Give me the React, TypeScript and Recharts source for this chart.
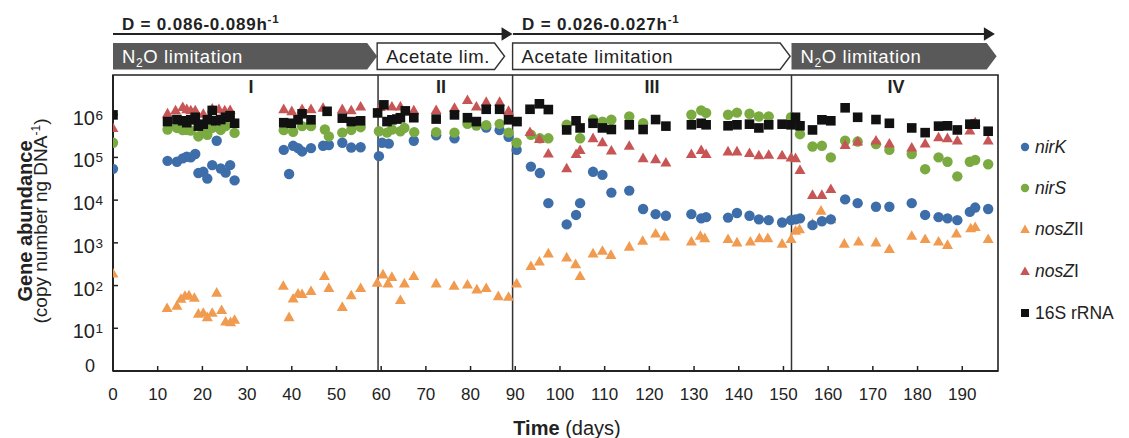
import React from 'react';
import { ScatterChart, Scatter, XAxis, YAxis, ReferenceLine, ReferenceArea } from 'recharts';

// gene copies per ng DNA, [day, value]
const nirK = [
  [0, 5.4e4], [12.2, 8.3e4], [14.3, 7.9e4], [15.6, 9.5e4], [16.5, 1.04e5], [17.4, 1.0e5], [18.4, 1.2e5],
  [19.1, 4.3e4], [20.2, 4.6e4], [21.1, 3.2e4], [22.2, 6.6e4], [23.2, 2.45e5], [24.1, 5.5e4], [25.2, 4.4e4],
  [26.2, 6.6e4], [27.2, 2.9e4], [38.2, 1.5e5], [39.4, 4.1e4], [40.3, 1.87e5], [41.4, 1.65e5], [42.3, 1.38e5],
  [44.3, 1.65e5], [47.0, 1.87e5], [48.3, 1.95e5], [51.3, 2.2e5], [53.3, 1.7e5], [55.4, 1.73e5], [59.5, 1.07e5],
  [60.2, 2.2e5], [61.7, 2.1e5], [67.3, 2.45e5], [72.3, 3.3e5], [76.4, 2.8e5], [83.5, 5.0e5], [86.5, 4.35e5],
  [88.5, 3.05e5], [90.3, 1.5e5], [93.5, 6.1e4], [95.5, 4.3e4], [97.4, 8.5e3], [101.5, 2.7e3], [103.6, 4.5e3],
  [104.5, 8.5e3], [107.4, 4.6e4], [109.5, 3.9e4], [111.5, 1.5e4], [115.5, 1.67e4], [118.6, 6.2e3], [121.4, 4.7e3],
  [123.7, 4.3e3], [129.4, 4.7e3], [131.6, 3.75e3], [132.7, 4.0e3], [137.6, 3.9e3], [139.6, 5.0e3], [142.4, 4.3e3],
  [144.5, 3.55e3], [146.7, 3.4e3], [149.7, 3.0e3], [151.7, 3.4e3], [152.7, 3.55e3], [153.7, 3.75e3], [156.5, 2.6e3],
  [158.6, 3.2e3], [160.6, 3.55e3], [163.8, 1.04e4], [166.6, 8.5e3], [170.7, 7.0e3], [173.7, 7.0e3], [178.7, 8.5e3],
  [181.7, 4.5e3], [184.7, 4.0e3], [186.7, 3.75e3], [188.9, 3.4e3], [191.7, 5.3e3], [192.9, 6.7e3], [195.8, 6.2e3],
];

const nirS = [
  [0, 2.2e5], [12.2, 4.5e5], [14.3, 4.9e5], [15.6, 4.35e5], [16.5, 4.4e5], [17.4, 4.25e5], [19.1, 3.1e5],
  [20.2, 4.0e5], [21.1, 3.4e5], [22.2, 4.9e5], [24.1, 4.4e5], [25.2, 5.4e5], [27.2, 3.75e5], [38.2, 4.35e5],
  [40.3, 4.0e5], [42.3, 5.4e5], [44.3, 5.4e5], [47.4, 4.5e5], [48.3, 3.1e5], [51.3, 3.8e5], [53.3, 4.4e5],
  [55.4, 5.1e5], [59.5, 4.1e5], [61.3, 3.8e5], [62.4, 4.5e5], [64.3, 4.1e5], [65.2, 4.9e5], [67.4, 3.9e5],
  [72.3, 3.9e5], [76.4, 3.8e5], [79.3, 6.1e5], [81.3, 5.6e5], [83.5, 5.7e5], [86.5, 6.1e5], [88.5, 3.8e5],
  [90.3, 2.2e5], [93.5, 3.4e5], [95.5, 2.8e5], [97.4, 2.8e5], [101.5, 5.8e5], [104.5, 2.8e5], [107.4, 7.7e5],
  [109.5, 6.9e5], [111.5, 7.6e5], [115.5, 9.1e5], [118.6, 6.3e5], [129.4, 1.0e6], [131.6, 1.26e6], [132.7, 1.1e6],
  [137.6, 1.0e6], [139.6, 1.12e6], [142.4, 1.05e6], [144.5, 9.1e5], [146.7, 9.1e5], [151.7, 8.7e5], [153.7, 3.5e5],
  [156.5, 1.8e5], [158.6, 1.87e5], [160.6, 1.0e5], [163.8, 2.45e5], [166.6, 2.35e5], [170.7, 2.05e5], [173.7, 1.5e5],
  [178.7, 1.2e5], [181.7, 5.3e4], [184.7, 1.0e5], [186.7, 7.9e4], [188.9, 3.6e4], [191.7, 7.9e4], [192.9, 8.7e4],
  [195.8, 6.9e4],
];

const nosZII = [
  [0, 200], [12.1, 31], [14.3, 35], [15.2, 51], [16.1, 60], [17.0, 62], [18.2, 54], [19.1, 23], [20.2, 24],
  [21.1, 19], [22.2, 24], [23.2, 71], [24.3, 28], [25.2, 15], [26.3, 14.5], [27.2, 16.5], [38.1, 103], [39.4, 19],
  [40.3, 52], [41.4, 68], [42.3, 66], [44.3, 78], [47.3, 174], [48.3, 91], [51.3, 33], [53.3, 62], [55.4, 91],
  [59.1, 122], [60.4, 190], [61.5, 117], [62.4, 166], [64.3, 48], [65.2, 117], [67.3, 174], [72.3, 117], [76.3, 103],
  [79.3, 110], [81.4, 85], [83.5, 91], [86.2, 59], [88.5, 57], [90.3, 117], [93.5, 300], [95.4, 380], [97.4, 590],
  [101.5, 475], [103.5, 330], [104.5, 174], [107.4, 590], [109.5, 680], [111.4, 545], [115.5, 850], [118.5, 1170],
  [121.4, 1720], [123.4, 1470], [129.4, 1120], [131.4, 1530], [132.4, 1340], [137.6, 1280], [139.6, 1070],
  [142.6, 1120], [144.6, 1340], [146.5, 1340], [149.7, 1000], [151.7, 1280], [152.7, 2000], [153.6, 2180],
  [156.5, 2930], [158.4, 5900], [160.6, 3750], [163.6, 1000], [166.8, 1120], [170.7, 1070], [173.7, 745],
  [178.7, 1530], [181.7, 1280], [184.7, 1120], [186.7, 935], [188.7, 1720], [191.9, 2290], [192.9, 2450], [195.8, 1280],
];

const nosZI = [
  [0, 5.1e5], [12.2, 1.12e6], [14.0, 1.32e6], [15.6, 1.58e6], [16.5, 1.41e6], [17.4, 1.32e6], [18.4, 1.32e6],
  [20.2, 1.1e6], [22.2, 1.45e6], [23.7, 1.41e6], [25.0, 1.32e6], [26.2, 1.34e6], [38.2, 1.41e6], [40.0, 1.26e6],
  [42.3, 1.41e6], [44.3, 1.41e6], [47.0, 1.51e6], [51.3, 1.41e6], [53.3, 1.32e6], [55.4, 1.62e6], [59.8, 1.58e6],
  [62.4, 1.62e6], [64.3, 1.62e6], [67.3, 1.32e6], [72.3, 1.34e6], [76.4, 1.51e6], [79.3, 2.3e6], [81.3, 1.62e6],
  [83.5, 2.08e6], [86.5, 2.08e6], [88.5, 1.28e6], [93.3, 4.1e5], [95.4, 2.8e5], [97.4, 1.29e5], [101.5, 5.8e4],
  [103.6, 1.25e5], [104.5, 1.55e5], [107.4, 2.95e5], [109.5, 2.35e5], [111.5, 1.51e5], [115.5, 1.96e5],
  [118.6, 1.0e5], [121.4, 9.5e4], [123.7, 7.9e4], [129.4, 1.25e5], [131.6, 1.55e5], [132.7, 1.25e5],
  [137.6, 1.44e5], [139.6, 1.44e5], [142.4, 1.32e5], [144.5, 1.17e5], [146.7, 1.2e5], [149.7, 1.17e5],
  [151.7, 1.04e5], [152.7, 1.0e5], [153.7, 5.3e4], [156.5, 1.38e4], [158.6, 1.38e4], [160.6, 1.9e4],
  [163.8, 2.05e5], [166.6, 2.45e5], [170.7, 2.6e5], [173.7, 2.2e5], [178.7, 1.78e5], [181.7, 2.2e5],
  [184.7, 3.1e5], [186.7, 2.95e5], [188.9, 2.6e5], [191.7, 4.45e5], [192.9, 6.9e5], [195.8, 2.6e5],
];

const rRNA16S = [
  [0, 9.9e5], [12.2, 6.9e5], [14.3, 7.7e5], [15.6, 7.2e5], [16.5, 6.5e5], [17.4, 7.6e5], [18.4, 8.7e5],
  [19.1, 5.4e5], [20.2, 6.0e5], [21.1, 7.6e5], [22.2, 1.26e6], [23.0, 7.2e5], [24.1, 7.7e5], [25.2, 8.7e5],
  [26.2, 9.5e5], [27.2, 6.3e5], [38.2, 6.5e5], [39.9, 6.3e5], [41.4, 7.6e5], [42.3, 1.05e6], [44.3, 7.6e5],
  [47.9, 1.2e6], [51.3, 8.3e5], [53.3, 6.9e5], [55.4, 7.2e5], [59.2, 1.1e6], [60.6, 1.7e6], [61.3, 6.9e5],
  [62.4, 7.6e5], [63.5, 7.9e5], [64.3, 8.5e5], [65.4, 1.23e6], [67.3, 8.5e5], [72.3, 7.9e5], [76.4, 9.9e5],
  [79.3, 8.5e5], [81.3, 6.9e5], [83.5, 1.34e6], [86.5, 1.34e6], [88.5, 7.6e5], [90.4, 6.9e5], [93.3, 1.34e6],
  [95.4, 1.8e6], [97.4, 1.32e6], [101.5, 4.4e5], [103.6, 7.2e5], [104.5, 4.9e5], [107.4, 6.3e5], [109.5, 4.9e5],
  [111.5, 4.5e5], [115.5, 5.8e5], [118.6, 4.5e5], [121.4, 7.7e5], [123.7, 5.4e5], [129.4, 5.8e5], [131.6, 6.3e5],
  [132.7, 5.8e5], [137.6, 5.5e5], [139.6, 5.8e5], [142.4, 6.0e5], [144.5, 4.9e5], [146.7, 5.8e5], [149.7, 6.0e5],
  [151.7, 5.8e5], [152.7, 8.7e5], [153.7, 5.5e5], [156.5, 4.4e5], [158.6, 7.6e5], [160.6, 7.2e5], [163.8, 1.45e6],
  [166.6, 8.7e5], [170.7, 7.7e5], [173.7, 6.3e5], [178.7, 4.9e5], [181.7, 3.8e5], [184.7, 5.4e5], [186.7, 5.5e5],
  [188.9, 4.4e5], [191.7, 6.0e5], [192.9, 6.0e5], [195.8, 4.1e5],
];

const xTicks = [0, 10, 20, 30, 40, 50, 60, 70, 80, 90, 100, 110, 120, 130, 140, 150, 160, 170, 180, 190];
const yTicks = [1, 10, 100, 1e3, 1e4, 1e5, 1e6];
const phaseBounds = [59.3, 89.4, 151.8];
const phaseLabels = [
  { label: 'I', day: 30.9 },
  { label: 'II', day: 73.4 },
  { label: 'III', day: 120.6 },
  { label: 'IV', day: 175.2 },
];
// from = left edge, tip = arrow point (days)
const banners = [
  { from: 0, tip: 59.1, text: 'N2O limitation', dark: true },
  { from: 59.1, tip: 87.6, text: 'Acetate lim.', dark: false },
  { from: 89.4, tip: 151.5, text: 'Acetate limitation', dark: false },
  { from: 151.8, tip: 197.7, text: 'N2O limitation', dark: true },
];
const dilution = [
  { from: 0, to: 89.4, text: 'D = 0.086-0.089h' },
  { from: 89.5, to: 197.3, text: 'D = 0.026-0.027h' },
];

const W = 1129;
const H = 438;
const PLOT_LEFT = 113;
const PLOT_RIGHT = 998;
const PLOT_TOP = 75;
const PLOT_BOTTOM = 371;
const X_MAX = 198;
const Y_MAX = 8.5e6;
const TEXT = '#222';
const FONT = '"Liberation Sans", Arial, Helvetica, sans-serif';

const BLUE = '#3e6eaa';
const GREEN = '#7aaa40';
const ORANGE = '#f09b50';
const RED = '#c85555';
const BLACK = '#111';

const xPx = (d: number) => PLOT_LEFT + (d / X_MAX) * (PLOT_RIGHT - PLOT_LEFT);
const toPoints = (rows: number[][]) => rows.map(([day, value]) => ({ day, value }));

const circle = (color: string, r = 5.2) => (p: any) => <circle cx={p.cx} cy={p.cy} r={r} fill={color} />;
const square = (color: string, s = 9.6) => (p: any) => (
  <rect x={p.cx - s / 2} y={p.cy - s / 2} width={s} height={s} fill={color} />
);
const triangle = (color: string, w = 11, h = 9.6) => (p: any) => (
  <polygon
    points={`${p.cx - w / 2},${p.cy + h / 2} ${p.cx + w / 2},${p.cy + h / 2} ${p.cx},${p.cy - h / 2}`}
    fill={color}
  />
);

const YTick = (props: any) => {
  const { x, y, payload } = props;
  const v = payload.value as number;
  if (v === 1) {
    return (
      <text x={x} y={y + 1} textAnchor="end" fontSize={18} fill={TEXT}>
        0
      </text>
    );
  }
  const exp = Math.round(Math.log10(v));
  return (
    <g>
      <text x={x} y={y + 10} textAnchor="end" fontSize={20} fill={TEXT}>
        10
      </text>
      <text x={x + 0.5} y={y + 5} fontSize={13.5} fill={TEXT}>
        {exp}
      </text>
    </g>
  );
};

const N2O = () => (
  <>
    N<tspan fontSize={12} dy={4}>2</tspan>
    <tspan dy={-4}>O limitation</tspan>
  </>
);

const legendItems = [
  { key: 'nirK', y: 147, mark: 'circle', color: BLUE },
  { key: 'nirS', y: 188, mark: 'circle', color: GREEN },
  { key: 'nosZII', y: 229, mark: 'triangle', color: ORANGE },
  { key: 'nosZI', y: 271, mark: 'triangle', color: RED },
  { key: '16S rRNA', y: 313, mark: 'square', color: BLACK },
];

const legendLabel = (key: string) => {
  if (key === 'nirK' || key === 'nirS') return <tspan fontStyle="italic">{key}</tspan>;
  if (key.startsWith('nosZ')) {
    return (
      <>
        <tspan fontStyle="italic">nosZ</tspan>
        <tspan>{key.slice(4)}</tspan>
      </>
    );
  }
  return <tspan>{key}</tspan>;
};

const Overlay = () => {
  const bannerTop = 43;
  const bannerBottom = 69.5;
  const mid = (bannerTop + bannerBottom) / 2;
  return (
    <svg
      width={W}
      height={H}
      style={{ position: 'absolute', left: 0, top: 0, pointerEvents: 'none', fontFamily: FONT }}
    >
      {dilution.map((d, i) => {
        const x0 = xPx(d.from);
        const x1 = xPx(d.to);
        return (
          <g key={i}>
            <line x1={x0} y1={34} x2={x1 - 8} y2={34} stroke={TEXT} strokeWidth={2.2} />
            <polygon points={`${x1 - 11},27.3 ${x1},34 ${x1 - 11},40.7`} fill={TEXT} />
            <text x={x0 + 9} y={29.5} fontSize={17} fontWeight="bold" fill={TEXT} letterSpacing={0.8}>
              {d.text}
              <tspan fontSize={11.5} dy={-7}>-1</tspan>
            </text>
          </g>
        );
      })}
      {banners.map((b, i) => {
        const x0 = xPx(b.from);
        const xt = xPx(b.tip);
        const pts = `${x0},${bannerTop} ${xt - 10},${bannerTop} ${xt},${mid} ${xt - 10},${bannerBottom} ${x0},${bannerBottom}`;
        return (
          <g key={i}>
            <polygon
              points={pts}
              fill={b.dark ? '#595959' : '#fff'}
              stroke={b.dark ? 'none' : '#333'}
              strokeWidth={1.4}
            />
            <text
              x={x0 + 9}
              y={63}
              fontSize={18.5}
              fill={b.dark ? '#fff' : TEXT}
              letterSpacing={0.6}
            >
              {b.text === 'N2O limitation' ? <N2O /> : b.text}
            </text>
          </g>
        );
      })}
      {phaseLabels.map((p) => (
        <text key={p.label} x={xPx(p.day)} y={93} textAnchor="middle" fontSize={18} fontWeight="bold" fill={TEXT}>
          {p.label}
        </text>
      ))}
      <text transform="translate(32, 221) rotate(-90)" textAnchor="middle" fontSize={20} fontWeight="bold" fill={TEXT}>
        Gene abundance
      </text>
      <text transform="translate(47, 221) rotate(-90)" textAnchor="middle" fontSize={19} fill={TEXT}>
        (copy number ng DNA<tspan fontSize={12} dy={-7}>-1</tspan>
        <tspan dy={7}>)</tspan>
      </text>
      <text x={567} y={435} textAnchor="middle" fontSize={20} fill={TEXT}>
        <tspan fontWeight="bold">Time</tspan> (days)
      </text>
      {legendItems.map((it) => {
        const cx = 1025;
        const cy = it.y;
        let mark;
        if (it.mark === 'circle') mark = <circle cx={cx} cy={cy} r={4.2} fill={it.color} />;
        else if (it.mark === 'square') mark = <rect x={cx - 4} y={cy - 4} width={8} height={8} fill={it.color} />;
        else mark = <polygon points={`${cx - 4.8},${cy + 4} ${cx + 4.8},${cy + 4} ${cx},${cy - 4.4}`} fill={it.color} />;
        return (
          <g key={it.key}>
            {mark}
            <text x={1035} y={cy + 6} fontSize={17.5} fill={TEXT}>
              {legendLabel(it.key)}
            </text>
          </g>
        );
      })}
    </svg>
  );
};

export default function App() {
  return (
    <div style={{ position: 'absolute', left: 0, top: 0, width: W, height: H, background: '#fff', fontFamily: FONT }}>
      <ScatterChart
        width={W}
        height={H}
        margin={{ top: PLOT_TOP, right: W - PLOT_RIGHT, bottom: H - PLOT_BOTTOM - 30, left: PLOT_LEFT - 60 }}
      >
        <XAxis
          type="number"
          dataKey="day"
          domain={[0, X_MAX]}
          ticks={xTicks}
          interval={0}
          allowDataOverflow
          height={30}
          tickSize={-5}
          tickMargin={22}
          tick={{ fontSize: 17, fill: TEXT }}
          axisLine={{ stroke: TEXT, strokeWidth: 2 }}
          tickLine={{ stroke: TEXT, strokeWidth: 1.5 }}
        />
        <YAxis
          type="number"
          dataKey="value"
          scale="log"
          domain={[1, Y_MAX]}
          ticks={yTicks}
          interval={0}
          allowDataOverflow
          width={60}
          tickSize={-5}
          tickMargin={23}
          tick={<YTick />}
          axisLine={{ stroke: TEXT, strokeWidth: 2 }}
          tickLine={{ stroke: TEXT, strokeWidth: 1.5 }}
        />
        <ReferenceArea
          x1={0}
          x2={X_MAX}
          y1={1}
          y2={Y_MAX}
          fill="none"
          stroke={TEXT}
          strokeWidth={1.6}
          ifOverflow="visible"
        />
        {phaseBounds.map((d) => (
          <ReferenceLine key={d} x={d} stroke="#333" strokeWidth={1.5} />
        ))}
        <Scatter name="nosZII" data={toPoints(nosZII)} shape={triangle(ORANGE)} isAnimationActive={false} />
        <Scatter name="nirK" data={toPoints(nirK)} shape={circle(BLUE)} isAnimationActive={false} />
        <Scatter name="nirS" data={toPoints(nirS)} shape={circle(GREEN)} isAnimationActive={false} />
        <Scatter name="nosZI" data={toPoints(nosZI)} shape={triangle(RED)} isAnimationActive={false} />
        <Scatter name="16S rRNA" data={toPoints(rRNA16S)} shape={square(BLACK)} isAnimationActive={false} />
      </ScatterChart>
      <Overlay />
    </div>
  );
}
